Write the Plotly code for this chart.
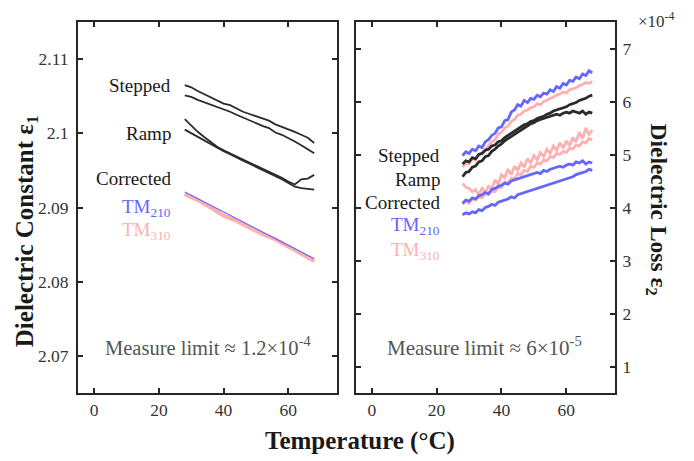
import plotly.graph_objects as go
from plotly.subplots import make_subplots

# ---------------- data ----------------
# Left panel: dielectric constant eps1 vs temperature (°C)
T_left = [28, 30, 32, 34, 36, 38, 40, 42, 44, 46, 48, 50, 52, 54, 56, 58, 60, 62, 64, 66, 68]
stepped_a = [2.1065, 2.1062, 2.1057, 2.1053, 2.1049, 2.1045, 2.1040, 2.1038, 2.1033, 2.1029, 2.1026,
             2.1023, 2.1020, 2.1017, 2.1012, 2.1009, 2.1006, 2.1002, 2.0998, 2.0994, 2.0987]
stepped_b = [2.1051, 2.1049, 2.1045, 2.1042, 2.1038, 2.1035, 2.1032, 2.1029, 2.1025, 2.1021, 2.1018,
             2.1014, 2.1010, 2.1007, 2.1001, 2.0998, 2.0994, 2.0989, 2.0984, 2.0978, 2.0973]
ramp_a = [2.1019, 2.1010, 2.1002, 2.0995, 2.0988, 2.0982, 2.0977, 2.0973, 2.0968, 2.0964, 2.0960,
          2.0956, 2.0952, 2.0948, 2.0944, 2.0940, 2.0935, 2.0931, 2.0938, 2.0939, 2.0944]
ramp_b = [2.1005, 2.1000, 2.0995, 2.0990, 2.0985, 2.0981, 2.0976, 2.0972, 2.0967, 2.0963, 2.0959,
          2.0955, 2.0951, 2.0947, 2.0942, 2.0938, 2.0933, 2.0928, 2.0926, 2.0925, 2.0924]
T_tm = [28, 32, 36, 40, 44, 48, 52, 56, 60, 64, 68]
tm210_eps1 = [2.0921, 2.0912, 2.0903, 2.0894, 2.0885, 2.0876, 2.0867, 2.0858, 2.0849, 2.0840, 2.0831]
tm310_eps1 = [2.0918, 2.0910, 2.0900, 2.0889, 2.0882, 2.0873, 2.0864, 2.0857, 2.0847, 2.0838, 2.0828]

# Right panel: dielectric loss eps2 (x 1e-4) vs temperature
T_right = list(range(28, 69))
tm210_loss_top = [4.98, 5.05, 5.02, 5.10, 5.07, 5.16, 5.13, 5.24, 5.28, 5.36, 5.40, 5.50, 5.52, 5.64,
                  5.66, 5.80, 5.84, 5.94, 5.91, 6.02, 5.98, 6.06, 6.04, 6.12, 6.09, 6.16, 6.14, 6.22,
                  6.19, 6.28, 6.25, 6.34, 6.31, 6.40, 6.38, 6.46, 6.43, 6.52, 6.49, 6.58, 6.54]
tm310_loss_top = [4.76, 4.84, 4.82, 4.92, 4.90, 5.00, 5.02, 5.10, 5.16, 5.24, 5.28, 5.38, 5.42, 5.50,
                  5.54, 5.62, 5.66, 5.74, 5.76, 5.82, 5.84, 5.88, 5.90, 5.96, 5.94, 6.00, 6.02, 6.06,
                  6.08, 6.12, 6.14, 6.18, 6.16, 6.22, 6.24, 6.26, 6.30, 6.32, 6.36, 6.34, 6.38]
measured_loss_a = [4.82, 4.88, 4.86, 4.94, 4.92, 5.00, 5.02, 5.08, 5.10, 5.16, 5.18, 5.24, 5.26, 5.32,
                   5.36, 5.40, 5.44, 5.48, 5.52, 5.56, 5.58, 5.62, 5.64, 5.68, 5.70, 5.72, 5.76, 5.78,
                   5.82, 5.84, 5.86, 5.88, 5.90, 5.94, 5.96, 5.98, 6.02, 6.04, 6.06, 6.10, 6.12]
measured_loss_b = [4.58, 4.66, 4.68, 4.76, 4.78, 4.86, 4.88, 4.96, 4.98, 5.06, 5.10, 5.16, 5.20, 5.26,
                   5.30, 5.34, 5.38, 5.42, 5.46, 5.50, 5.54, 5.58, 5.60, 5.64, 5.66, 5.68, 5.70, 5.72,
                   5.74, 5.76, 5.74, 5.78, 5.80, 5.78, 5.82, 5.80, 5.78, 5.82, 5.76, 5.80, 5.78]
tm310_loss_low = [4.45, 4.38, 4.36, 4.30, 4.34, 4.24, 4.36, 4.28, 4.40, 4.36, 4.52, 4.44, 4.62, 4.56,
                  4.72, 4.62, 4.78, 4.70, 4.84, 4.76, 4.92, 4.84, 4.98, 4.90, 5.04, 4.96, 5.10, 5.02,
                  5.16, 5.08, 5.22, 5.12, 5.26, 5.16, 5.32, 5.24, 5.42, 5.30, 5.50, 5.38, 5.46]
tm310_loss_low2 = [4.06, 4.12, 4.08, 4.16, 4.14, 4.20, 4.18, 4.26, 4.24, 4.32, 4.30, 4.40, 4.38, 4.48,
                   4.46, 4.56, 4.54, 4.64, 4.62, 4.70, 4.68, 4.78, 4.76, 4.84, 4.82, 4.90, 4.88, 4.96,
                   4.94, 5.02, 5.00, 5.06, 5.04, 5.12, 5.10, 5.18, 5.16, 5.24, 5.22, 5.30, 5.28]
tm210_loss_low = [4.08, 4.14, 4.12, 4.18, 4.16, 4.22, 4.24, 4.28, 4.26, 4.34, 4.36, 4.40, 4.42, 4.46,
                  4.44, 4.50, 4.52, 4.54, 4.56, 4.58, 4.60, 4.62, 4.64, 4.66, 4.64, 4.70, 4.68, 4.72,
                  4.74, 4.76, 4.78, 4.76, 4.80, 4.82, 4.80, 4.86, 4.84, 4.88, 4.82, 4.86, 4.84]
tm210_loss_low2 = [3.86, 3.90, 3.88, 3.92, 3.90, 3.96, 3.94, 4.00, 4.02, 4.06, 4.04, 4.10, 4.12, 4.14,
                   4.16, 4.20, 4.18, 4.24, 4.26, 4.28, 4.30, 4.32, 4.34, 4.36, 4.38, 4.40, 4.42, 4.44,
                   4.46, 4.48, 4.50, 4.52, 4.54, 4.56, 4.58, 4.62, 4.64, 4.66, 4.68, 4.72, 4.70]

x_ticks = [0, 20, 40, 60]
y1_ticks = [2.07, 2.08, 2.09, 2.1, 2.11]
y1_ticktext = ["2.07", "2.08", "2.09", "2.1", "2.11"]
y2_ticks = [1, 2, 3, 4, 5, 6, 7]

# ---------------- style ----------------
BLACK = "#2b2b2b"
BLUE = "#6565ff"
PINK = "#ffb0b0"
FONT = "Liberation Serif, Times New Roman, serif"
AX = "#262626"

OFF = 8  # page body margin of the html page
W, H = 694 - OFF, 461 - OFF
# screen-pixel geometry of the reference plot boxes
L1, R1, L2, R2, TOP, BOT = 78, 337, 355.7, 615.3, 22, 392.7
ML, MT = L1 - OFF, TOP - OFF
MR = W - (R2 - OFF)
MB = H - (BOT - OFF)
PW, PH = W - ML - MR, H - MT - MB


def px(x):
    return (x - OFF - ML) / PW


def py(y):
    return 1 - (y - OFF - MT) / PH


fig = make_subplots(rows=1, cols=2, horizontal_spacing=0.035)

# left panel
fig.add_trace(go.Scatter(x=T_left, y=stepped_a, mode="lines", line=dict(color=BLACK, width=1.8)), 1, 1)
fig.add_trace(go.Scatter(x=T_left, y=stepped_b, mode="lines", line=dict(color=BLACK, width=1.8)), 1, 1)
fig.add_trace(go.Scatter(x=T_left, y=ramp_a, mode="lines", line=dict(color=BLACK, width=1.8)), 1, 1)
fig.add_trace(go.Scatter(x=T_left, y=ramp_b, mode="lines", line=dict(color=BLACK, width=1.8)), 1, 1)
fig.add_trace(go.Scatter(x=T_tm, y=tm310_eps1, mode="lines", line=dict(color=PINK, width=4)), 1, 1)
fig.add_trace(go.Scatter(x=T_tm, y=tm210_eps1, mode="lines", line=dict(color=BLUE, width=1.2)), 1, 1)

# right panel
for ys, c in [(tm310_loss_low, PINK), (tm310_loss_low2, PINK), (tm210_loss_low, BLUE),
              (tm210_loss_low2, BLUE), (tm310_loss_top, PINK), (tm210_loss_top, BLUE),
              (measured_loss_a, BLACK), (measured_loss_b, BLACK)]:
    fig.add_trace(go.Scatter(x=T_right, y=ys, mode="lines", line=dict(color=c, width=2.8)), 1, 2)

axis_common = dict(showline=True, linecolor=AX, linewidth=2, mirror="ticks", ticks="inside",
                   ticklen=5, tickwidth=1.5, tickcolor=AX, showgrid=False, zeroline=False,
                   tickfont=dict(family=FONT, size=17.5, color="#333333"))

fig.update_xaxes(range=[-5, 75], tickvals=x_ticks, domain=[0, px(R1)], row=1, col=1, **axis_common)
fig.update_xaxes(range=[-5, 75], tickvals=x_ticks, domain=[px(L2), 1], row=1, col=2, **axis_common)
fig.update_yaxes(range=[2.065, 2.115], tickvals=y1_ticks, ticktext=y1_ticktext, ticklabelstandoff=4,
                 row=1, col=1, **axis_common)
fig.update_yaxes(range=[0.5, 7.5], tickvals=y2_ticks, side="right", ticklabelstandoff=2,
                 row=1, col=2, **axis_common)

ann = []
# left labels
for txt, yv, col in [("Stepped", 2.1064, "#1a1a1a"), ("Ramp", 2.1000, "#1a1a1a"),
                     ("Corrected", 2.0939, "#1a1a1a"), ("TM<sub>210</sub>", 2.0899, BLUE),
                     ("TM<sub>310</sub>", 2.0868, PINK)]:
    ann.append(dict(x=24.3, y=yv, xref="x", yref="y", text=txt, showarrow=False, xanchor="right",
                    yanchor="middle", font=dict(family=FONT, size=19, color=col)))
# right labels
for txt, yv, col in [("Stepped", 4.98, "#1a1a1a"), ("Ramp", 4.53, "#1a1a1a"),
                     ("Corrected", 4.10, "#1a1a1a"), ("TM<sub>210</sub>", 3.65, BLUE),
                     ("TM<sub>310</sub>", 3.18, PINK)]:
    ann.append(dict(x=21.6, y=yv, xref="x2", yref="y2", text=txt, showarrow=False, xanchor="right",
                    yanchor="middle", font=dict(family=FONT, size=19, color=col)))

ann.append(dict(x=px(208.5), y=py(346), xref="paper", yref="paper", xanchor="center", yanchor="middle",
                text="Measure limit ≈ 1.2×10<sup>-4</sup>", showarrow=False,
                font=dict(family=FONT, size=20.5, color="#555555")))
ann.append(dict(x=px(484.7), y=py(346), xref="paper", yref="paper", xanchor="center", yanchor="middle",
                text="Measure limit ≈ 6×10<sup>-5</sup>", showarrow=False,
                font=dict(family=FONT, size=21, color="#555555")))
ann.append(dict(x=px(657), y=py(20), xref="paper", yref="paper", xanchor="center", yanchor="middle",
                text="×10<sup>-4</sup>", showarrow=False,
                font=dict(family=FONT, size=17, color="#333333")))
# axis titles
ann.append(dict(x=px(360), y=py(441), xref="paper", yref="paper", xanchor="center", yanchor="middle",
                text="<b>Temperature (°C)</b>", showarrow=False,
                font=dict(family=FONT, size=25, color="#1a1a1a")))
ann.append(dict(x=px(26), y=py(231), xref="paper", yref="paper", textangle=-90,
                xanchor="center", yanchor="middle",
                text="<b>Dielectric Constant ε<sub>1</sub></b>", showarrow=False,
                font=dict(family=FONT, size=25, color="#1a1a1a")))
ann.append(dict(x=px(657), y=py(209), xref="paper", yref="paper", textangle=90,
                xanchor="center", yanchor="middle",
                text="<b>Dielectric Loss ε<sub>2</sub></b>", showarrow=False,
                font=dict(family=FONT, size=23.5, color="#1a1a1a")))

fig.update_layout(width=W, height=H, margin=dict(l=ML, r=MR, t=MT, b=MB, autoexpand=False),
                  plot_bgcolor="white", paper_bgcolor="white", showlegend=False,
                  annotations=ann, font=dict(family=FONT))

fig.write_html("out.html")
